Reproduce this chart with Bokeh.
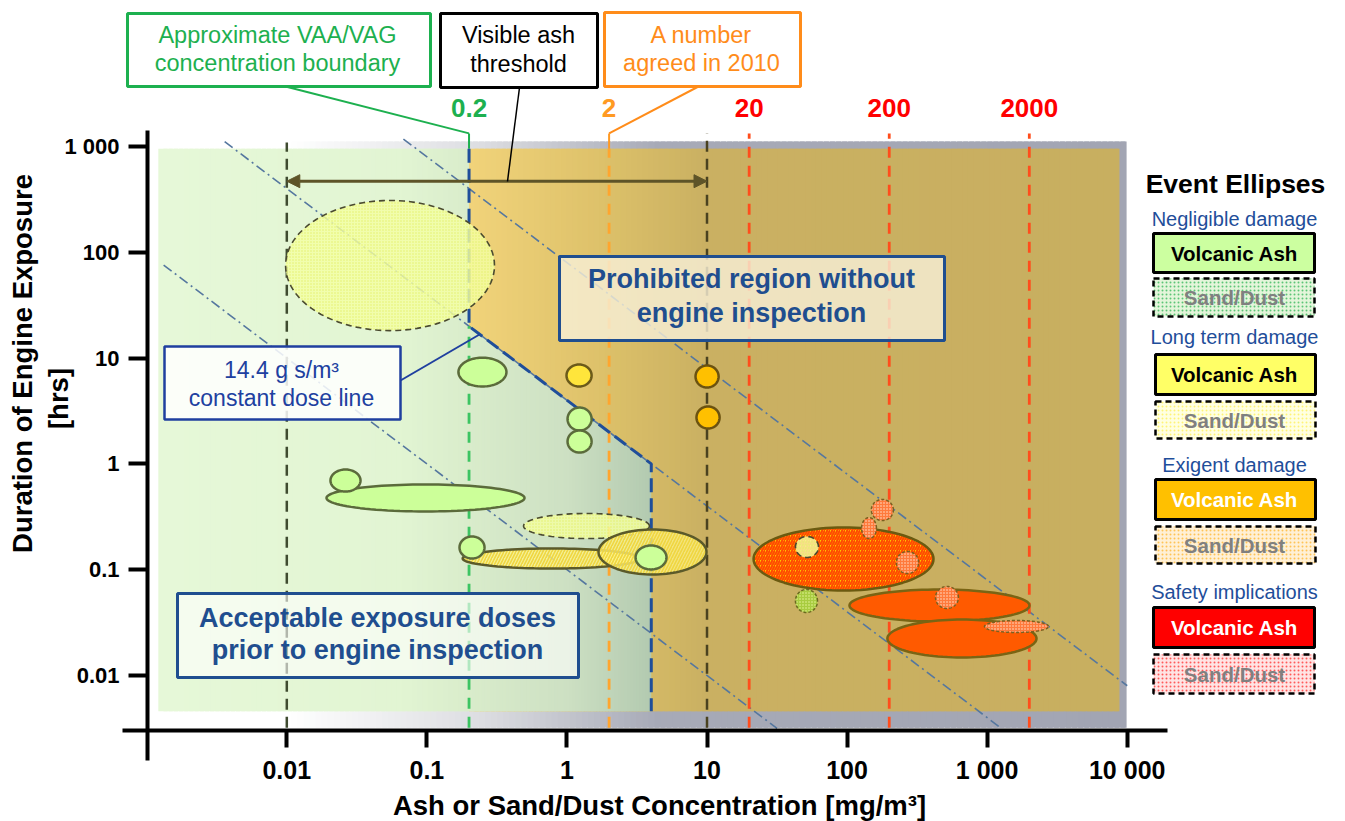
import math
import numpy as np
from bokeh.plotting import figure
from bokeh.models import Range1d, FixedTicker, BoxAnnotation, Label, Arrow, NormalHead
from bokeh.embed import file_html
from bokeh.resources import INLINE

FONT = "Liberation Sans"

# ------------------------------------------------------------------ data
threshold_values = [0.2, 2, 20, 200, 2000]          # mg/m3
threshold_labels = ["0.2", "2", "20", "200", "2000"]
visible_ash_from = 0.01
visible_ash_to = 10
acceptable_dose_gsm3 = 14.4                          # g s/m3
acceptable_dose = acceptable_dose_gsm3 / 3.6         # mg h/m3
acceptable_conc_max = 4.0                            # mg/m3

dose_levels = [0.1, acceptable_dose, 80]             # mg h/m3 constant dose lines
dose_x_start = [0.00132, 0.0036, 0.068]
dose_x_end = [31.6, 1245, 10000]

x_tick_values = [0.01, 0.1, 1, 10, 100, 1000, 10000]
x_tick_labels = ["0.01", "0.1", "1", "10", "100", "1 000", "10 000"]
y_tick_values = [0.01, 0.1, 1, 10, 100, 1000]
y_tick_labels = ["0.01", "0.1", "1", "10", "100", "1 000"]

# event ellipses: concentration range [mg/m3], duration range [hrs], class
event_conc_lo = [0.0098, 0.0192, 0.0205, 0.168, 0.993, 1.01, 1.01, 8.28, 8.41, 0.490, 0.180, 0.171,
                 1.68, 3.09, 21.5, 42.8, 149, 127, 225, 42.8, 104, 194, 428, 957]
event_conc_hi = [0.304, 0.498, 0.0336, 0.370, 1.50, 1.50, 1.50, 12.1, 12.3, 3.88, 3.35, 0.258,
                 9.92, 5.14, 414, 62.5, 214, 162, 324, 61.5, 2006, 2251, 624, 2742]
event_hrs_lo = [18.2, 0.355, 0.548, 5.39, 5.39, 2.07, 1.28, 5.27, 2.16, 0.197, 0.1026, 0.1276,
                0.090, 0.1005, 0.0636, 0.1304, 0.2917, 0.197, 0.092, 0.0394, 0.0324, 0.0148, 0.043, 0.0255]
event_hrs_hi = [309, 0.639, 0.885, 10.1, 8.70, 3.41, 2.07, 8.51, 3.49, 0.340, 0.1587, 0.206,
                0.240, 0.1693, 0.2506, 0.206, 0.461, 0.311, 0.1486, 0.065, 0.065, 0.0338, 0.0694, 0.0331]
event_class = ["lt_sd", "neg_va", "neg_va", "neg_va", "lt_va", "neg_va", "neg_va", "ex_va", "ex_va",
               "lt_sd", "lt_vah", "neg_va", "lt_vah", "neg_va", "ex_vah", "lt_sd", "ex_sd", "ex_sd",
               "ex_sd", "neg_sd", "sf_va", "sf_va", "ex_sd", "ex_sd"]

legend_groups = ["Negligible damage", "Long term damage", "Exigent damage", "Safety implications"]

# ------------------------------------------------------------------ layout constants
REGION_TOP, REGION_BOTTOM = 950, 0.0046
BAND_TOP, BAND_BOTTOM = 1115, 0.0032
REGION_LEFT, TAN_RIGHT, BAND_RIGHT = 0.00121, 8800, 9900
LINE_TOP = 1330
ARROW_HRS = 470
W, H = 1345, 821

p = figure(width=W, height=H, x_axis_type="log", y_axis_type="log",
           x_range=Range1d(10 ** -4.0440, 10 ** 5.5584),
           y_range=Range1d(10 ** -3.3800, 10 ** 4.3800),
           output_backend="svg", toolbar_location=None, min_border=0)
p.outline_line_color = None
p.xgrid.visible = False
p.ygrid.visible = False
p.background_fill_color = "white"
p.border_fill_color = "white"


def hex2rgb(h):
    return tuple(int(h[i:i + 2], 16) for i in (1, 3, 5))


def lerp_color(c1, c2, t):
    a, b = hex2rgb(c1), hex2rgb(c2)
    return "#%02x%02x%02x" % tuple(int(round(a[i] + (b[i] - a[i]) * t)) for i in range(3))


def grad_color(lx, stops):
    if lx <= stops[0][0]:
        return stops[0][1]
    for (l0, c0), (l1, c1) in zip(stops[:-1], stops[1:]):
        if lx <= l1:
            return lerp_color(c0, c1, (lx - l0) / (l1 - l0))
    return stops[-1][1]


def gradient_band(x0, x1, bottom, top_fn, stops, n):
    edges = np.linspace(math.log10(x0), math.log10(x1), n + 1)
    step = edges[1] - edges[0]
    xs, ys, cols = [], [], []
    for a, b in zip(edges[:-1], edges[1:]):
        b2 = min(b + 0.8 * step, edges[-1])
        xa, xb = 10 ** a, 10 ** b2
        xs.append([xa, xa, xb, xb])
        ys.append([bottom, top_fn(xa), top_fn(xb), bottom])
        cols.append(grad_color(0.5 * (a + b), stops))
    p.patches(xs, ys, fill_color=cols, line_color=None)


# background regions
gradient_band(REGION_LEFT, BAND_RIGHT, BAND_BOTTOM, lambda x: BAND_TOP,
              [(-2.0, "#ffffff"), (-0.6, "#dcdde1"), (0.65, "#a7aab7"), (4.0, "#a2a5b3")], 160)
gradient_band(threshold_values[0], TAN_RIGHT, REGION_BOTTOM, lambda x: REGION_TOP,
              [(-0.7, "#f1d37a"), (0.3, "#dcc069"), (1.0, "#cab062"), (4.0, "#c8af60")], 120)
gradient_band(REGION_LEFT, threshold_values[0], REGION_BOTTOM, lambda x: REGION_TOP,
              [(-2.9, "#e6f8d8"), (-1.2, "#e2f5d3"), (-0.7, "#d9eccb")], 60)
gradient_band(threshold_values[0], acceptable_conc_max, REGION_BOTTOM, lambda x: acceptable_dose / x,
              [(-0.7, "#d9eccb"), (0.0, "#cde0c3"), (0.6, "#b3cab0")], 60)

# constant dose lines
p.segment(x0=dose_x_start, y0=[d / x for d, x in zip(dose_levels, dose_x_start)],
          x1=dose_x_end, y1=[d / x for d, x in zip(dose_levels, dose_x_end)],
          line_color="#55779f", line_width=1.6, line_dash="10 4 2 4")

# vertical concentration markers
p.segment(x0=[visible_ash_from], y0=[BAND_BOTTOM], x1=[visible_ash_from], y1=[1091],
          line_color="#3f4b30", line_width=2.5, line_dash="11 7")
p.segment(x0=[visible_ash_to], y0=[BAND_BOTTOM], x1=[visible_ash_to], y1=[LINE_TOP],
          line_color="#4a4220", line_width=2.5, line_dash="11 7")
th_line_colors = ["#3cc462", "#ffa52e", "#ff4d1c", "#ff4d1c", "#ff4d1c"]
th_dash_top = [acceptable_dose / threshold_values[0], REGION_TOP, LINE_TOP, LINE_TOP, LINE_TOP]
for xv, col, top in zip(threshold_values, th_line_colors, th_dash_top):
    p.segment(x0=[xv], y0=[BAND_BOTTOM], x1=[xv], y1=[top], line_color=col, line_width=2.8,
              line_dash="11 8")
p.segment(x0=threshold_values[:2], y0=[REGION_TOP] * 2, x1=threshold_values[:2], y1=[LINE_TOP] * 2,
          line_color=["#1db04f", "#ff9a22"], line_width=2)

# acceptable region boundary
p.line([threshold_values[0], threshold_values[0], acceptable_conc_max, acceptable_conc_max],
       [REGION_TOP, acceptable_dose / threshold_values[0], acceptable_dose / acceptable_conc_max, REGION_BOTTOM],
       line_color="#1f4e9a", line_width=3, line_dash="14 6")

# visible ash arrow
ac = "#5e5428"
p.add_layout(Arrow(x_start=visible_ash_from, y_start=ARROW_HRS, x_end=visible_ash_to, y_end=ARROW_HRS,
                   line_color=ac, line_width=3,
                   start=NormalHead(size=13, fill_color=ac, line_color=ac),
                   end=NormalHead(size=13, fill_color=ac, line_color=ac)))

# event ellipses
STYLE = {
    "neg_va": dict(fill_color="#ccff99", line_color="#5b6b3b", line_width=2.5),
    "neg_sd": dict(fill_color="#a8cc40", line_color="#6a6a20", line_width=1.5, line_dash="3 2",
                   hatch_pattern="dot", hatch_color="#e8f8a0", hatch_scale=3, hatch_weight=1.5),
    "lt_va": dict(fill_color="#ffe53b", line_color="#6b5a1a", line_width=2.5),
    "lt_vah": dict(fill_color="#fff486", fill_alpha=0.75, line_color="#5b5a2a", line_width=2.5,
                   hatch_pattern="right_diagonal_line", hatch_color="#f0d640", hatch_scale=6, hatch_weight=1.6),
    "lt_sd": dict(fill_color="#f4ffa4", fill_alpha=0.82, line_color="#4a4a30", line_width=1.6, line_dash="6 4",
                  hatch_pattern="dot", hatch_color="#e2f06a", hatch_scale=3, hatch_weight=1),
    "ex_va": dict(fill_color="#ffc000", line_color="#6b5210", line_width=2.5),
    "ex_vah": dict(fill_color="#ffc800", line_color="#6b5a10", line_width=2.5,
                   hatch_pattern="right_diagonal_line", hatch_color="#ff4a00", hatch_scale=5, hatch_weight=2),
    "ex_sd": dict(fill_color="#ff7a3c", line_color="#7a6020", line_width=1.5, line_dash="3 2",
                  hatch_pattern="dot", hatch_color="#ffe8d4", hatch_scale=3, hatch_weight=1.5),
    "sf_va": dict(fill_color="#ff5a00", line_color="#7a6414", line_width=2.5),
}
theta = np.linspace(0, 2 * np.pi, 97)
for lo, hi, tlo, thi, cls in zip(event_conc_lo, event_conc_hi, event_hrs_lo, event_hrs_hi, event_class):
    cx, rx = (math.log10(lo) + math.log10(hi)) / 2, (math.log10(hi) - math.log10(lo)) / 2
    cy, ry = (math.log10(tlo) + math.log10(thi)) / 2, (math.log10(thi) - math.log10(tlo)) / 2
    p.patch(10 ** (cx + rx * np.cos(theta)), 10 ** (cy + ry * np.sin(theta)), **STYLE[cls])


# ------------------------------------------------------------------ annotations (image px)
def box(l, t, r, b, **kw):
    kw.setdefault("fill_alpha", 1.0)
    kw.setdefault("line_alpha", 1.0)
    p.add_layout(BoxAnnotation(left=l, right=r, top=H - t, bottom=H - b,
                               left_units="screen", right_units="screen",
                               top_units="screen", bottom_units="screen", **kw))


def text(x, base, s, size, color, bold=False, align="center", angle=0.0, xu="screen", mid=None):
    # base = baseline position in image px (y, or x for rotated text)
    if angle:
        xm, ym = base - 0.3465 * size, H - x
    else:
        xm, ym = x, H - (mid if mid is not None else base - 0.3465 * size)
    p.add_layout(Label(x=xm, y=ym, x_units=xu, y_units="screen",
                       text=s, text_font=FONT, text_font_size=f"{size}px",
                       text_font_style="bold" if bold else "normal", text_color=color,
                       text_align=align, text_baseline="middle", angle=angle))


def leader(x0, y0, x1, y1, color, width, end_data=False):
    p.add_layout(Arrow(end=None, x_start=x0, y_start=H - y0,
                       x_end=x1, y_end=y1 if end_data else H - y1,
                       start_units="screen", end_units="data" if end_data else "screen",
                       line_color=color, line_width=width))


# top callouts
green, orange, blue = "#1db04f", "#ff8c1a", "#1f4e8f"
box(127, 13, 430, 86, fill_color="white", line_color=green, line_width=3)
text(277, 43, "Approximate VAA/VAG", 23.5, green)
text(277, 71, "concentration boundary", 23.5, green)
leader(285, 86, threshold_values[0], LINE_TOP, green, 2, end_data=True)

box(440, 13, 597, 87, fill_color="white", line_color="black", line_width=3)
text(518, 43, "Visible ash", 23.5, "black")
text(518, 72, "threshold", 23.5, "black")
leader(519, 87, 507, 181, "black", 1.5)

box(604, 12, 800, 86, fill_color="white", line_color=orange, line_width=3)
text(701, 43, "A number", 23.5, orange)
text(701, 71, "agreed in 2010", 23.5, orange)
leader(698, 86, threshold_values[1], LINE_TOP, orange, 2, end_data=True)

th_text_colors = [green, "#ff9a22", "#ff0000", "#ff0000", "#ff0000"]
for xv, lab, col in zip(threshold_values, threshold_labels, th_text_colors):
    text(xv, 117, lab, 26, col, bold=True, xu="data")

# region labels
box(559, 256, 944, 340, fill_color="#f8f0d8", fill_alpha=0.8, line_color=blue, line_width=3)
text(751, 288, "Prohibited region without", 27, blue, bold=True)
text(751, 322, "engine inspection", 27, blue, bold=True)

box(164, 346, 400, 419, fill_color="white", fill_alpha=0.85, line_color="#1f3f9f", line_width=2.5)
text(281, 377, "14.4 g s/m³", 23, "#2040a0")
text(281, 405, "constant dose line", 23, "#2040a0")
leader(400, 380, 479, 334, "#1f3f9f", 2)

box(177, 593, 578, 677, fill_color="white", fill_alpha=0.6, line_color=blue, line_width=3)
text(377, 627, "Acceptable exposure doses", 27, blue, bold=True)
text(377, 659, "prior to engine inspection", 27, blue, bold=True)

# legend
text(1235, 193, "Event Ellipses", 26.5, "black", bold=True)
leg_title_y = [225, 343, 471, 598]
leg_va_box = [(1153, 233, 1314, 272), (1155, 354, 1315, 394), (1155, 479, 1315, 519), (1153, 607, 1314, 647)]
leg_sd_box = [(1153, 278, 1314, 316), (1155, 401, 1315, 438), (1155, 526, 1315, 563), (1153, 654, 1314, 693)]
va_fill = ["#ccffa0", "#ffff66", "#ffc000", "#ff0000"]
va_text = ["black", "black", "white", "white"]
sd_fill = ["#e4f5da", "#ffffe2", "#fff0d6", "#ffe4e4"]
sd_hatch = ["#22b14c", "#fff04a", "#ffb020", "#ff2020"]
for name, ty, vb, sb, vf, vt, sf, sh in zip(legend_groups, leg_title_y, leg_va_box, leg_sd_box,
                                            va_fill, va_text, sd_fill, sd_hatch):
    text(1234, ty, name, 20, "#1f4e9a")
    box(*vb, fill_color=vf, line_color="black", line_width=3)
    text(1234, 0, "Volcanic Ash", 20.5, vt, bold=True, mid=(vb[1] + vb[3]) / 2)
    box(*sb, fill_color=sf, line_color="black", line_width=2.5, line_dash="6 4",
        hatch_pattern="dot", hatch_color=sh, hatch_scale=4, hatch_weight=2, hatch_alpha=0.7)
    text(1234, 0, "Sand/Dust", 20.5, "#808080", bold=True, mid=(sb[1] + sb[3]) / 2)

# axis titles
text(363, 32, "Duration of Engine Exposure", 27.5, "black", bold=True, angle=math.pi / 2)
text(398, 67.5, "[hrs]", 27.5, "black", bold=True, angle=math.pi / 2)
text(659, 815, "Ash or Sand/Dust Concentration [mg/m³]", 27.5, "black", bold=True)

# ------------------------------------------------------------------ axes
xa, ya = p.xaxis[0], p.yaxis[0]
xa.fixed_location = 10 ** -2.5198
ya.fixed_location = 10 ** -2.9945
xa.ticker = FixedTicker(ticks=x_tick_values)
ya.ticker = FixedTicker(ticks=y_tick_values)
xa.major_label_overrides = dict(zip(x_tick_values, x_tick_labels))
ya.major_label_overrides = dict(zip(y_tick_values, y_tick_labels))
xa.bounds = (10 ** -3.173, 10 ** 4.2876)
ya.bounds = (10 ** -2.8034, 10 ** 3.1512)
for ax, size, tick_out, standoff in ((xa, 25, 17, 9), (ya, 22, 19, 9)):
    ax.axis_line_width = 4
    ax.axis_line_color = "black"
    ax.major_tick_line_width = 4
    ax.major_tick_line_color = "black"
    ax.major_tick_out = tick_out
    ax.major_tick_in = 0
    ax.minor_tick_line_color = None
    ax.major_label_text_font = FONT
    ax.major_label_text_font_style = "bold"
    ax.major_label_text_font_size = f"{size}px"
    ax.major_label_text_color = "black"
    ax.major_label_standoff = standoff

open("out.html", "w").write(file_html(p, INLINE))
